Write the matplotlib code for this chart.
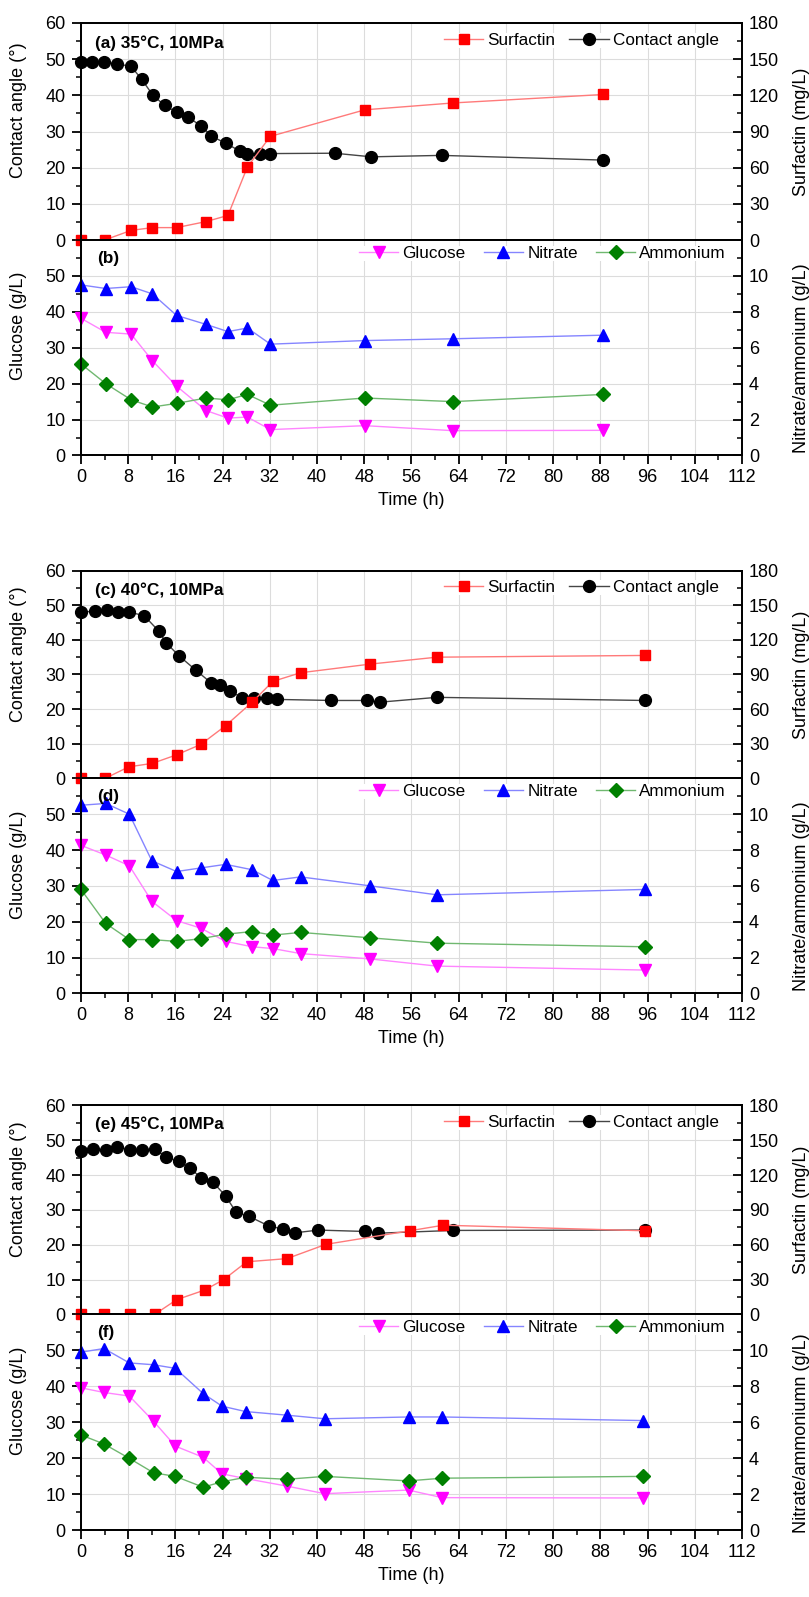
import numpy as np
import matplotlib
matplotlib.use("Agg")
import matplotlib.pyplot as plt
from matplotlib.ticker import MultipleLocator

# ---- data ----
# (a) 35 C
a_ca_t = [0, 1.9, 3.9, 6.1, 8.5, 10.3, 12.2, 14.2, 16.2, 18.2, 20.4, 22.1, 24.5, 26.9, 28.2, 30.4, 32.1, 43.0, 49.2, 61.1, 88.5]
a_ca = [49.3, 49.3, 49.2, 48.7, 48.0, 44.4, 40.0, 37.2, 35.3, 33.9, 31.5, 28.7, 26.8, 24.6, 23.7, 23.9, 23.9, 24.0, 23.0, 23.4, 22.1]
a_sf_t = [0, 4, 8.5, 12.1, 16.2, 21.2, 24.9, 28.2, 32.1, 48.1, 63.1, 88.5]
a_sf = [0, 0, 8, 10.3, 10.3, 15.3, 20.4, 60.6, 86, 108, 113.7, 120.7]
b_t = [0, 4.2, 8.5, 12.1, 16.2, 21.2, 24.9, 28.2, 32.1, 48.1, 63.1, 88.5]
b_glc = [38.2, 34.3, 33.8, 26.4, 19.3, 12.5, 10.4, 10.7, 7.2, 8.3, 6.9, 7.0]
b_nit = [9.5, 9.3, 9.4, 9.0, 7.8, 7.3, 6.9, 7.1, 6.2, 6.4, 6.5, 6.7]
b_amm = [5.1, 4.0, 3.1, 2.7, 2.9, 3.2, 3.1, 3.4, 2.8, 3.2, 3.0, 3.4]

# (c) 40 C
c_ca_t = [0, 2.4, 4.4, 6.3, 8.2, 10.7, 13.2, 14.4, 16.6, 19.5, 22.1, 23.6, 25.2, 27.3, 29.3, 31.6, 33.3, 42.4, 48.4, 50.6, 60.3, 95.5]
c_ca = [48.0, 48.3, 48.5, 48.1, 48.0, 47.0, 42.5, 39.2, 35.4, 31.2, 27.5, 27.0, 25.3, 23.3, 23.3, 23.1, 22.8, 22.5, 22.5, 22.0, 23.4, 22.5]
c_sf_t = [0, 4.1, 8.1, 12.1, 16.2, 20.3, 24.5, 29.0, 32.5, 37.2, 49.0, 60.3, 95.5]
c_sf = [0, 0, 10, 13, 20.4, 29.4, 45.6, 66, 84, 91.5, 99, 105, 106.5]
d_t = [0, 4.2, 8.2, 12.0, 16.2, 20.3, 24.5, 29.0, 32.5, 37.2, 49.0, 60.3, 95.5]
d_glc = [41.3, 38.6, 35.6, 25.7, 20.3, 18.2, 14.5, 13.0, 12.5, 11.1, 9.6, 7.6, 6.5]
d_nit = [10.5, 10.6, 10.0, 7.4, 6.8, 7.0, 7.2, 6.9, 6.3, 6.5, 6.0, 5.5, 5.8]
d_amm = [5.8, 3.9, 3.0, 3.0, 2.9, 3.05, 3.3, 3.45, 3.25, 3.4, 3.1, 2.8, 2.6]

# (e) 45 C
e_ca_t = [0, 2.0, 4.2, 6.1, 8.3, 10.3, 12.5, 14.4, 16.6, 18.5, 20.4, 22.4, 24.5, 26.3, 28.4, 31.8, 34.2, 36.2, 40.2, 48.2, 50.3, 63.1, 95.5]
e_ca = [46.9, 47.6, 47.2, 48.2, 47.3, 47.3, 47.5, 45.2, 43.9, 42.0, 39.1, 37.9, 34.0, 29.3, 28.2, 25.4, 24.5, 23.4, 24.2, 23.8, 23.3, 24.1, 24.2]
e_sf_t = [0, 3.9, 8.3, 12.5, 16.2, 21.0, 24.2, 28.1, 34.9, 41.5, 55.7, 61.4, 95.5]
e_sf = [0, 0, 0, 0, 12.6, 21, 30, 45.3, 48, 60.3, 72, 76.8, 72]
f_t = [0, 3.9, 8.2, 12.3, 16.0, 20.7, 23.9, 27.9, 34.9, 41.3, 55.5, 61.2, 95.3]
f_glc = [39.6, 38.3, 37.3, 30.3, 23.4, 20.3, 15.7, 14.4, 12.3, 10.2, 11.2, 9.1, 9.0]
f_nit = [9.9, 10.1, 9.3, 9.2, 9.0, 7.6, 6.9, 6.6, 6.4, 6.2, 6.3, 6.3, 6.1]
f_amm = [5.3, 4.8, 4.0, 3.2, 3.0, 2.4, 2.7, 2.95, 2.84, 3.0, 2.75, 2.9, 3.0]

x_ticks = list(range(0, 113, 8))

plt.rcParams["font.family"] = ["Liberation Sans", "DejaVu Sans"]
plt.rcParams["axes.linewidth"] = 1.3

fig = plt.figure(figsize=(8.09, 15.97), dpi=100)

L, W = 0.1001, 0.8170
groups = [
    # top panel bottom/height, bottom panel bottom/height
    (0.8497, 0.1359, 0.7148, 0.1349),
    (0.5126, 0.1301, 0.3780, 0.1346),
    (0.1770, 0.1308, 0.0417, 0.1353),
]

TICKFS = 13
LABFS = 13
LEGFS = 12.3
RLAB_X = 1.077


def style_axis(ax, side):
    d = "out" if side == "left" else "in"
    ax.tick_params(axis="y", which="major", direction=d, length=6.5, width=1.3,
                   labelsize=TICKFS, pad=4.5 if side == "left" else 5)
    ax.tick_params(axis="y", which="minor", direction=d, length=3.4, width=1.1)
    if side == "left":
        ax.tick_params(axis="y", left=True, right=False, which="both")
    else:
        ax.tick_params(axis="y", left=False, right=True, which="both")


def line(ax, t, y, mk, fc, lc, ms, label):
    return ax.plot(t, y, marker=mk, ms=ms, color=lc, lw=1.0,
                   markerfacecolor=fc, markeredgecolor=fc, label=label)[0]


def legend(ax, handles, ncol, anchor, colsp):
    leg = ax.legend(handles=handles, loc="upper right", ncol=ncol,
                    bbox_to_anchor=anchor, fontsize=LEGFS, frameon=True,
                    handlelength=2.3, handletextpad=0.25, columnspacing=colsp,
                    borderaxespad=0, borderpad=0)
    leg.get_frame().set_edgecolor("none")
    leg.get_frame().set_facecolor("white")
    leg.get_frame().set_alpha(1)
    return leg


top_data = [
    (a_ca_t, a_ca, a_sf_t, a_sf, "(a) 35°C, 10MPa"),
    (c_ca_t, c_ca, c_sf_t, c_sf, "(c) 40°C, 10MPa"),
    (e_ca_t, e_ca, e_sf_t, e_sf, "(e) 45°C, 10MPa"),
]
bot_data = [
    (b_t, b_glc, b_nit, b_amm, "(b)", "Nitrate/ammonium (g/L)"),
    (d_t, d_glc, d_nit, d_amm, "(d)", "Nitrate/ammonium (g/L)"),
    (f_t, f_glc, f_nit, f_amm, "(f)", "Nitrate/ammoniumn (g/L)"),
]

for (tb, th, bb, bh), td, bd in zip(groups, top_data, bot_data):
    # ---- top panel: contact angle + surfactin ----
    ax = fig.add_axes([L, tb, W, th])
    ax2 = ax.twinx()
    ax.set_xlim(0, 112)
    ax.set_ylim(0, 60)
    ax2.set_ylim(0, 180)
    ax.set_xticks(x_ticks)
    ax.set_yticks(range(0, 61, 10))
    ax.yaxis.set_minor_locator(MultipleLocator(5))
    ax2.set_yticks(range(0, 181, 30))
    ax2.yaxis.set_minor_locator(MultipleLocator(15))
    ax.tick_params(axis="x", bottom=False, labelbottom=False, top=False)
    ax2.tick_params(axis="x", bottom=False, labelbottom=False, top=False)
    ax.grid(True, color="#dcdcdc", lw=0.8)
    ax.set_axisbelow(True)
    style_axis(ax, "left")
    style_axis(ax2, "right")

    ca_t, ca, sf_t, sf, title = td
    h_ca = line(ax, ca_t, ca, "o", "black", "#454545", 8.5, "Contact angle")
    h_sf = line(ax2, sf_t, sf, "s", "#ff0000", "#ff7a7a", 7.5, "Surfactin")
    for h in (h_ca, h_sf):
        h.set_clip_on(False)

    ax.set_ylabel("Contact angle (°)", fontsize=LABFS)
    ax.yaxis.set_label_coords(-0.082, 0.6)
    ax2.set_ylabel("Surfactin (mg/L)", fontsize=LABFS)
    ax2.yaxis.set_label_coords(RLAB_X, 0.5)
    ax2.text(0.021, 0.908, title, transform=ax2.transAxes, fontsize=12.4,
             fontweight="bold", va="center", ha="left")
    legend(ax2, [h_sf, h_ca], 2, (0.965, 0.956), 0.8)

    # ---- bottom panel: glucose, nitrate, ammonium ----
    bx = fig.add_axes([L, bb, W, bh])
    bx2 = bx.twinx()
    bx.set_xlim(0, 112)
    bx.set_ylim(0, 60)
    bx2.set_ylim(0, 12)
    bx.set_xticks(x_ticks)
    bx.xaxis.set_minor_locator(MultipleLocator(4))
    bx.set_yticks(range(0, 51, 10))
    bx.yaxis.set_minor_locator(MultipleLocator(5))
    bx2.set_yticks(range(0, 11, 2))
    bx2.yaxis.set_minor_locator(MultipleLocator(1))
    bx.grid(True, color="#dcdcdc", lw=0.8)
    bx.set_axisbelow(True)
    bx.tick_params(axis="x", which="major", direction="out", length=6.5, width=1.3,
                   labelsize=TICKFS, pad=3.5, top=False)
    bx.tick_params(axis="x", which="minor", direction="out", length=3.4, width=1.1,
                   top=False)
    style_axis(bx, "left")
    style_axis(bx2, "right")

    t, glc, nit, amm, title, rlabel = bd
    h_g = line(bx, t, glc, "v", "#ff00ff", "#ff85ff", 9, "Glucose")
    h_n = line(bx2, t, nit, "^", "#0000ff", "#8585ff", 9, "Nitrate")
    h_a = line(bx2, t, amm, "D", "#008000", "#70b870", 7, "Ammonium")
    for h in (h_g, h_n, h_a):
        h.set_clip_on(False)

    bx.set_ylabel("Glucose (g/L)", fontsize=LABFS)
    bx.yaxis.set_label_coords(-0.082, 0.6)
    bx2.set_ylabel(rlabel, fontsize=LABFS)
    bx2.yaxis.set_label_coords(RLAB_X, 0.45)
    bx.set_xlabel("Time (h)", fontsize=13, labelpad=4)
    bx2.text(0.024, 0.916, title, transform=bx2.transAxes, fontsize=12.4,
             fontweight="bold", va="center", ha="left")
    legend(bx2, [h_g, h_n, h_a], 3, (0.976, 0.974), 1.05)

fig.savefig("out.png", dpi=100)
